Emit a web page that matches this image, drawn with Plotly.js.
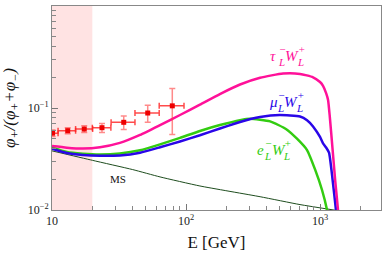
<!DOCTYPE html>
<html>
<head>
<meta charset="utf-8">
<script src="https://cdn.plot.ly/plotly-3.0.1.min.js"></script>
<style>html,body{margin:0;padding:0;background:#fff;}</style>
</head>
<body>
<div id="chart" style="width:382px;height:256px;"></div>
<script>
// ---- data ----
const dataE     = [10.1, 13.1, 17.4, 23.6, 34.3, 51.8, 79];
const dataRatio = [0.0567, 0.0599, 0.0622, 0.0641, 0.0724, 0.0893, 0.105];
const dataErrY  = [0.004, 0.004, 0.0046, 0.0065, 0.011, 0.017, 0.05];
const dataErrXPlus  = [1.0, 1.9, 2.7, 3.9, 7.3, 11.3, 17.6];
const dataErrXMinus = [1.0, 2.0, 2.4, 3.6, 6.7, 10.2, 15.9];

const tauE = [10, 12.9, 17.0, 22.8, 32.1, 45.4, 64.0, 90.2, 127, 179, 253, 357, 530, 709, 887, 1000, 1053, 1110, 1148, 1183, 1242, 1300, 1362, 1400];
const tauY = [0.0423, 0.0408, 0.0400, 0.0412, 0.0455, 0.0545, 0.068, 0.0854, 0.108, 0.137, 0.170, 0.198, 0.218, 0.216, 0.200, 0.180, 0.165, 0.14, 0.12, 0.082, 0.0387, 0.019, 0.01, 0.006];

const muE = [10, 12.9, 17.0, 22.8, 32.1, 45.4, 64.0, 90.2, 127, 179, 253, 357, 500, 709, 800, 887, 1000, 1053, 1110, 1167, 1240, 1315, 1350];
const muY = [0.0399, 0.0362, 0.0346, 0.0340, 0.0343, 0.0365, 0.0412, 0.0470, 0.0540, 0.0630, 0.0730, 0.0815, 0.0853, 0.0825, 0.076, 0.066, 0.052, 0.0451, 0.041, 0.0365, 0.02, 0.01, 0.007];

const eE = [10, 12.9, 17.0, 22.8, 32.1, 45.4, 64.0, 90.2, 127, 179, 253, 301, 424, 560, 673, 800, 918, 1035, 1128, 1160];
const eY = [0.041, 0.0370, 0.0356, 0.0350, 0.0358, 0.0385, 0.0440, 0.0510, 0.0595, 0.068, 0.0760, 0.0785, 0.0740, 0.062, 0.050, 0.0387, 0.0250, 0.0157, 0.01, 0.008];

const msE = [10, 20, 40, 64, 127, 357, 709, 1330];
const msY = [0.038, 0.0307, 0.0249, 0.0211, 0.0172, 0.0135, 0.0113, 0.0099];

const xTickVals = [10, 100, 1000];
const xTickText = ['10', '10<sup>2</sup>', '10<sup>3</sup>'];
const yTickVals = [0.01, 0.1, 1];
const yTickText = ['10<sup>\u22122</sup>', '10<sup>\u22121</sup>', '1'];

const shadeRange = [10, 20];

// minor log ticks
function minorTicks(d0, d1) {
  const out = [];
  for (let d = d0; d <= d1; d++) for (let k = 2; k <= 9; k++) out.push(k * Math.pow(10, d));
  return out;
}

const serif = '"Liberation Serif", serif';
const tauColor = '#ff1199', muColor = '#2a06e8', eColor = '#33cc11', msColor = '#1e4d1e';
const curveLine = c => ({color: c, width: 2.5, shape: 'spline', smoothing: 0.5});

const traces = [
  {x: msE, y: msY, mode: 'lines', line: {color: msColor, width: 1, shape: 'spline', smoothing: 0.5}},
  {x: eE, y: eY, mode: 'lines', line: curveLine(eColor)},
  {x: muE, y: muY, mode: 'lines', line: curveLine(muColor)},
  {x: tauE, y: tauY, mode: 'lines', line: curveLine(tauColor)},
  {x: dataE, y: dataRatio, mode: 'markers',
   marker: {color: '#ee0000', size: 5, symbol: 'square'},
   error_y: {type: 'data', array: dataErrY, color: 'rgba(255,60,60,0.6)', thickness: 1.5, width: 3},
   error_x: {type: 'data', symmetric: false, array: dataErrXPlus, arrayminus: dataErrXMinus, color: 'rgba(255,30,30,0.8)', thickness: 1.5, width: 3}}
];

// curve labels with stacked sub/superscripts
function curveLabel(xl, yl, base, color, baseW) {
  const f = {family: serif, size: 15, color: color, style: 'italic'};
  const fs = {family: serif, size: 11, color: color, style: 'italic'};
  const common = {x: xl, y: yl, xref: 'x', yref: 'y', showarrow: false, xanchor: 'left', yanchor: 'middle'};
  const s1 = baseW + 0.5, w = s1 + 7.5, s2 = w + 12.5;
  return [
    Object.assign({}, common, {text: base, font: f, xshift: 0}),
    Object.assign({}, common, {text: '\u2212', font: fs, xshift: s1 + 1, yshift: 7}),
    Object.assign({}, common, {text: 'L', font: fs, xshift: s1, yshift: -6}),
    Object.assign({}, common, {text: 'W', font: f, xshift: w}),
    Object.assign({}, common, {text: '+', font: fs, xshift: s2, yshift: 7}),
    Object.assign({}, common, {text: 'L', font: fs, xshift: s2 - 1, yshift: -6})
  ];
}

const axisCommon = {
  type: 'log', showgrid: false, zeroline: false,
  showline: true, linecolor: '#888', linewidth: 1, mirror: true,
  ticks: 'inside', ticklen: 6, tickcolor: '#777', tickwidth: 1,
  tickmode: 'array',
  tickfont: {family: serif, size: 12, color: '#222'}
};

const layout = {
  width: 382, height: 256,
  margin: {l: 52, r: 1, t: 6, b: 46},
  paper_bgcolor: '#fff', plot_bgcolor: '#fff',
  showlegend: false,
  xaxis: Object.assign({}, axisCommon, {
    range: [1, 3.455], tickvals: xTickVals, ticktext: xTickText,
    minor: {tickmode: 'array', tickvals: minorTicks(1, 3), ticks: 'inside', ticklen: 4, tickcolor: '#888'},
    title: {text: 'E [GeV]', font: {family: serif, size: 17, color: '#111'}, standoff: 8}
  }),
  yaxis: Object.assign({}, axisCommon, {
    range: [-2, 0], tickvals: yTickVals, ticktext: yTickText,
    minor: {tickmode: 'array', tickvals: minorTicks(-2, -1), ticks: 'inside', ticklen: 4, tickcolor: '#888'},
    title: {text: '<i>\u03c6<sub>+</sub>/(\u03c6<sub>+</sub>+\u03c6<sub>\u2212</sub>)</i>', font: {family: serif, size: 17, color: '#111'}, standoff: 7}
  }),
  shapes: [{type: 'rect', xref: 'x', yref: 'paper', x0: shadeRange[0], x1: shadeRange[1], y0: 0, y1: 1,
            fillcolor: '#ffe3e3', line: {width: 0}, layer: 'below'}],
  annotations: [].concat(
    curveLabel(2.612, -0.49, '\u03c4', tauColor, 7),
    curveLabel(2.604, -0.946, '\u03bc', muColor, 7.5),
    curveLabel(2.515, -1.41, 'e', eColor, 6.5),
    [{x: 1.4925, y: -1.696, xref: 'x', yref: 'y', showarrow: false,
      text: 'MS', font: {family: serif, size: 11, color: '#111'}}]
  )
};

Plotly.newPlot('chart', traces, layout, {displayModeBar: false, staticPlot: true});
</script>
</body>
</html>
